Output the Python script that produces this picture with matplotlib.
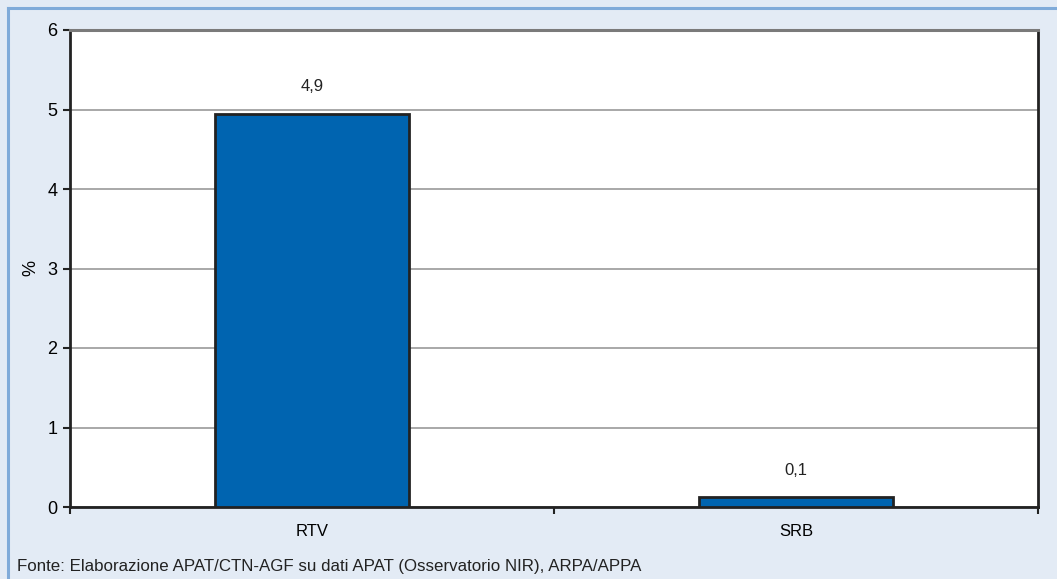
import matplotlib.pyplot as plt
from matplotlib import font_manager

categories = ['RTV', 'SRB']
values = [4.94, 0.12]
labels = ['4,9', '0,1']
yticks = [0, 1, 2, 3, 4, 5, 6]

names = {f.name for f in font_manager.fontManager.ttflist}
fam = 'Liberation Sans Narrow' if 'Liberation Sans Narrow' in names else 'Liberation Sans'
plt.rcParams['font.family'] = [fam, 'DejaVu Sans']

W, H = 1057, 579
fig = plt.figure(figsize=(W / 100, H / 100), dpi=100)
fig.patch.set_facecolor('#e3ebf5')

# border left and top
fig.add_artist(plt.Line2D([8 / W, 8 / W], [0, 1 - 8 / H], transform=fig.transFigure,
                          color='#80abd9', lw=2.2))
fig.add_artist(plt.Line2D([8 / W, 1], [1 - 8 / H, 1 - 8 / H], transform=fig.transFigure,
                          color='#80abd9', lw=2.2))

ax = fig.add_axes([70 / W, 1 - 507 / H, 968 / W, 477 / H])
ax.set_facecolor('white')
x = range(len(categories))
ax.bar(x, values, width=0.4, color='#0064b0', edgecolor='#222222', linewidth=2, zorder=3)
for xi, v, lab in zip(x, values, labels):
    ax.text(xi, v + 0.25, lab, ha='center', va='bottom', fontsize=12, color='#222222')

ax.set_xlim(-0.5, 1.5)
ax.set_ylim(0, 6)
ax.set_yticks(yticks)
ax.set_yticklabels([str(t) for t in yticks], fontsize=13)
ax.yaxis.grid(True, color='#9a9a9a', lw=1.2, zorder=0)
ax.set_axisbelow(True)

ax.set_xticks([-0.5, 0.5, 1.5])
ax.set_xticklabels([])
ax.set_xticks([0, 1], minor=True)
ax.set_xticklabels(categories, minor=True, fontsize=12)
ax.tick_params(axis='x', which='minor', length=0, pad=12)
ax.tick_params(axis='x', which='major', length=5, width=1.5, color='#222222')
ax.tick_params(axis='y', length=5, width=1.5, color='#222222', pad=4)

for s in ['left', 'bottom', 'right']:
    ax.spines[s].set_color('#222222')
    ax.spines[s].set_linewidth(2)
ax.spines['top'].set_color('#7a7a7a')
ax.spines['top'].set_linewidth(2.2)

ax.set_ylabel('%', fontsize=13, labelpad=6)

fig.text(17 / W, 1 - 567 / H, 'Fonte: Elaborazione APAT/CTN-AGF su dati APAT (Osservatorio NIR), ARPA/APPA',
         fontsize=12.2, va='center', ha='left', color='#222222')

fig.savefig('out.png', dpi=100, facecolor=fig.get_facecolor())
